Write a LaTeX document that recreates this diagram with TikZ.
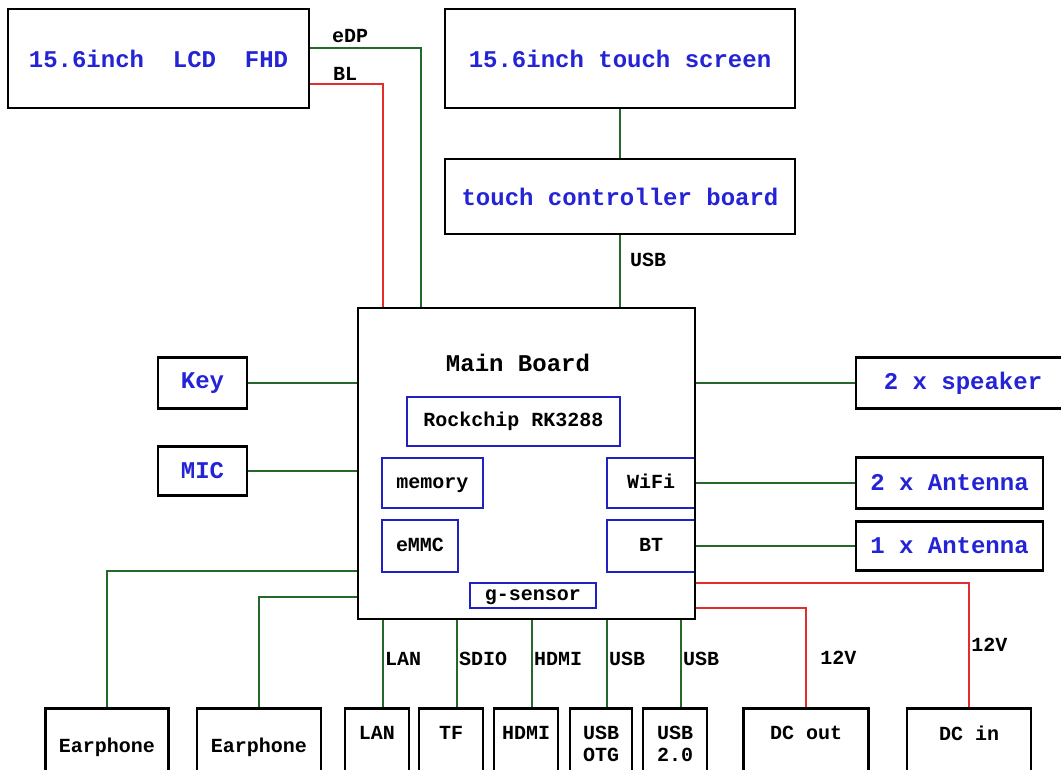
\documentclass[tikz,border=0pt]{standalone}
\usepackage{fontspec}
\setmainfont{Liberation Mono}
\usepackage{tikz}
\usetikzlibrary{positioning}
\definecolor{wgreen}{RGB}{38,104,42}
\definecolor{wred}{RGB}{228,44,44}
\definecolor{tblue}{RGB}{36,36,214}
\definecolor{bblue}{RGB}{32,32,196}
\newcommand{\bigfnt}{\fontsize{24}{26}\selectfont\bfseries}
\newcommand{\smlfnt}{\fontsize{20}{22}\selectfont\bfseries}

\begin{document}
\begin{tikzpicture}[x=1pt,y=-1pt,
  blk/.style={draw=black,line width=2.6pt,inner sep=0pt,font=\bigfnt,text=tblue},
  chip/.style={draw=bblue,line width=2.4pt,inner sep=0pt,font=\smlfnt,text height=14pt,text depth=4pt},
  port/.style={draw=black,line width=2.6pt,inner sep=0pt,anchor=north,minimum height=80pt},
  gw/.style={draw=wgreen,line width=2.2pt},
  rw/.style={draw=wred,line width=2.8pt},
  wlbl/.style={font=\smlfnt,inner sep=1pt}]
\useasboundingbox (0,0) rectangle (1061,770);
\fill[white] (0,0) rectangle (1061,770);
\clip (0,0) rectangle (1061,770);

% displays
\node[blk,minimum width=301pt,minimum height=99pt] (lcd) at (158.5,58.5) {15.6inch\ \ LCD\ \ FHD};
\node[blk,minimum width=350pt,minimum height=99pt] (touch) at (620,58.5) {15.6inch touch screen};
\node[blk,minimum width=350pt,minimum height=75pt] (ctrl) at (620,196.5) {touch controller board};

% main board and its parts
\node[chip,minimum width=213pt,minimum height=49pt] (rk) at (513.5,421.5) {Rockchip RK3288};
\node[chip,minimum width=101pt,minimum height=50pt] (mem) at (432.5,483) {memory};
\node[chip,minimum width=76pt,minimum height=52pt] (emmc) at (420,546) {eMMC};
\node[chip,minimum width=88pt,minimum height=50pt] (wifi) at (651,483) {WiFi};
\node[chip,minimum width=88pt,minimum height=52pt] (bt) at (651,546) {BT};
\node[chip,minimum width=126pt,minimum height=25pt] (gsen) at (533,595.5) {g-sensor};
\node[blk,minimum width=337pt,minimum height=311pt] (main) at (526.5,463.5) {};
\node[font=\bigfnt] (mbl) at (518,363) {Main Board};

% side parts
\node[blk,minimum width=89pt,minimum height=51pt] (key) at (202.5,383) {Key};
\node[blk,minimum width=89pt,minimum height=49pt] (mic) at (202.5,471) {MIC};
\node[blk,minimum width=214pt,minimum height=51pt] (spk) at (963,383) {2 x speaker};
\node[blk,minimum width=187pt,minimum height=51pt] (ant2) at (949.5,483) {2 x Antenna};
\node[blk,minimum width=187pt,minimum height=49pt] (ant1) at (949.5,546) {1 x Antenna};

% bottom connectors
\foreach \nm/\cx/\bw/\dy/\txt in {ear1/107/123/40/Earphone, ear2/259/124/40/Earphone,
    lan/377/64/26/LAN, tf/451/64/26/TF, hdmi/526/64/26/HDMI, otg/601/62/37/USB\\OTG,
    usbb/675/64/37/USB\\2.0, dcout/806/125/26/DC out, dcin/969/124/26/DC in} {
  \node[port,minimum width=\bw pt] (\nm) at (\cx,707) {};
  \node[font=\smlfnt,align=center] (\nm-t) at ([yshift=-\dy pt]\nm.north) {\txt};
}

% wires
\draw[gw] (lcd.east |- 0,48) -| (main.north -| 421,0) node[wlbl,above=3pt,pos=0.18] {eDP};
\draw[rw] (lcd.east |- 0,84) -| (main.north -| 383,0) node[wlbl,above=1pt,pos=0.24] {BL};
\draw[gw] (touch.south) -- (ctrl.north);
\draw[gw] (ctrl.south) -- (ctrl.south |- main.north) node[wlbl,right=8pt,pos=0.35] {USB};
\draw[gw] (key.east) -- (key.east -| main.west);
\draw[gw] (mic.east) -- (mic.east -| main.west);
\draw[gw] (main.east |- spk.west) -- (spk.west);
\draw[gw] (wifi.east) -- (wifi.east -| ant2.west);
\draw[gw] (bt.east) -- (bt.east -| ant1.west);
\draw[gw] (main.west |- 0,571) -| (ear1.north);
\draw[gw] (main.west |- 0,597) -| (ear2.north);
\foreach \nm/\lb in {lan/LAN, tf/SDIO, hdmi/HDMI, otg/USB, usbb/USB} {
  \coordinate (\nm-w) at ([xshift=6pt]\nm.north);
  \draw[gw] (\nm-w) -- (\nm-w |- main.south) node[wlbl,anchor=west,pos=0.55] {\lb};
}
\draw[rw] (main.east |- 0,608) -| (dcout.north) node[wlbl,right=12pt,pos=0.75] {12V};
\draw[rw] (main.east |- 0,583) -| (dcin.north) node[wlbl,right=0pt,pos=0.75] {12V};
\end{tikzpicture}
\end{document}
